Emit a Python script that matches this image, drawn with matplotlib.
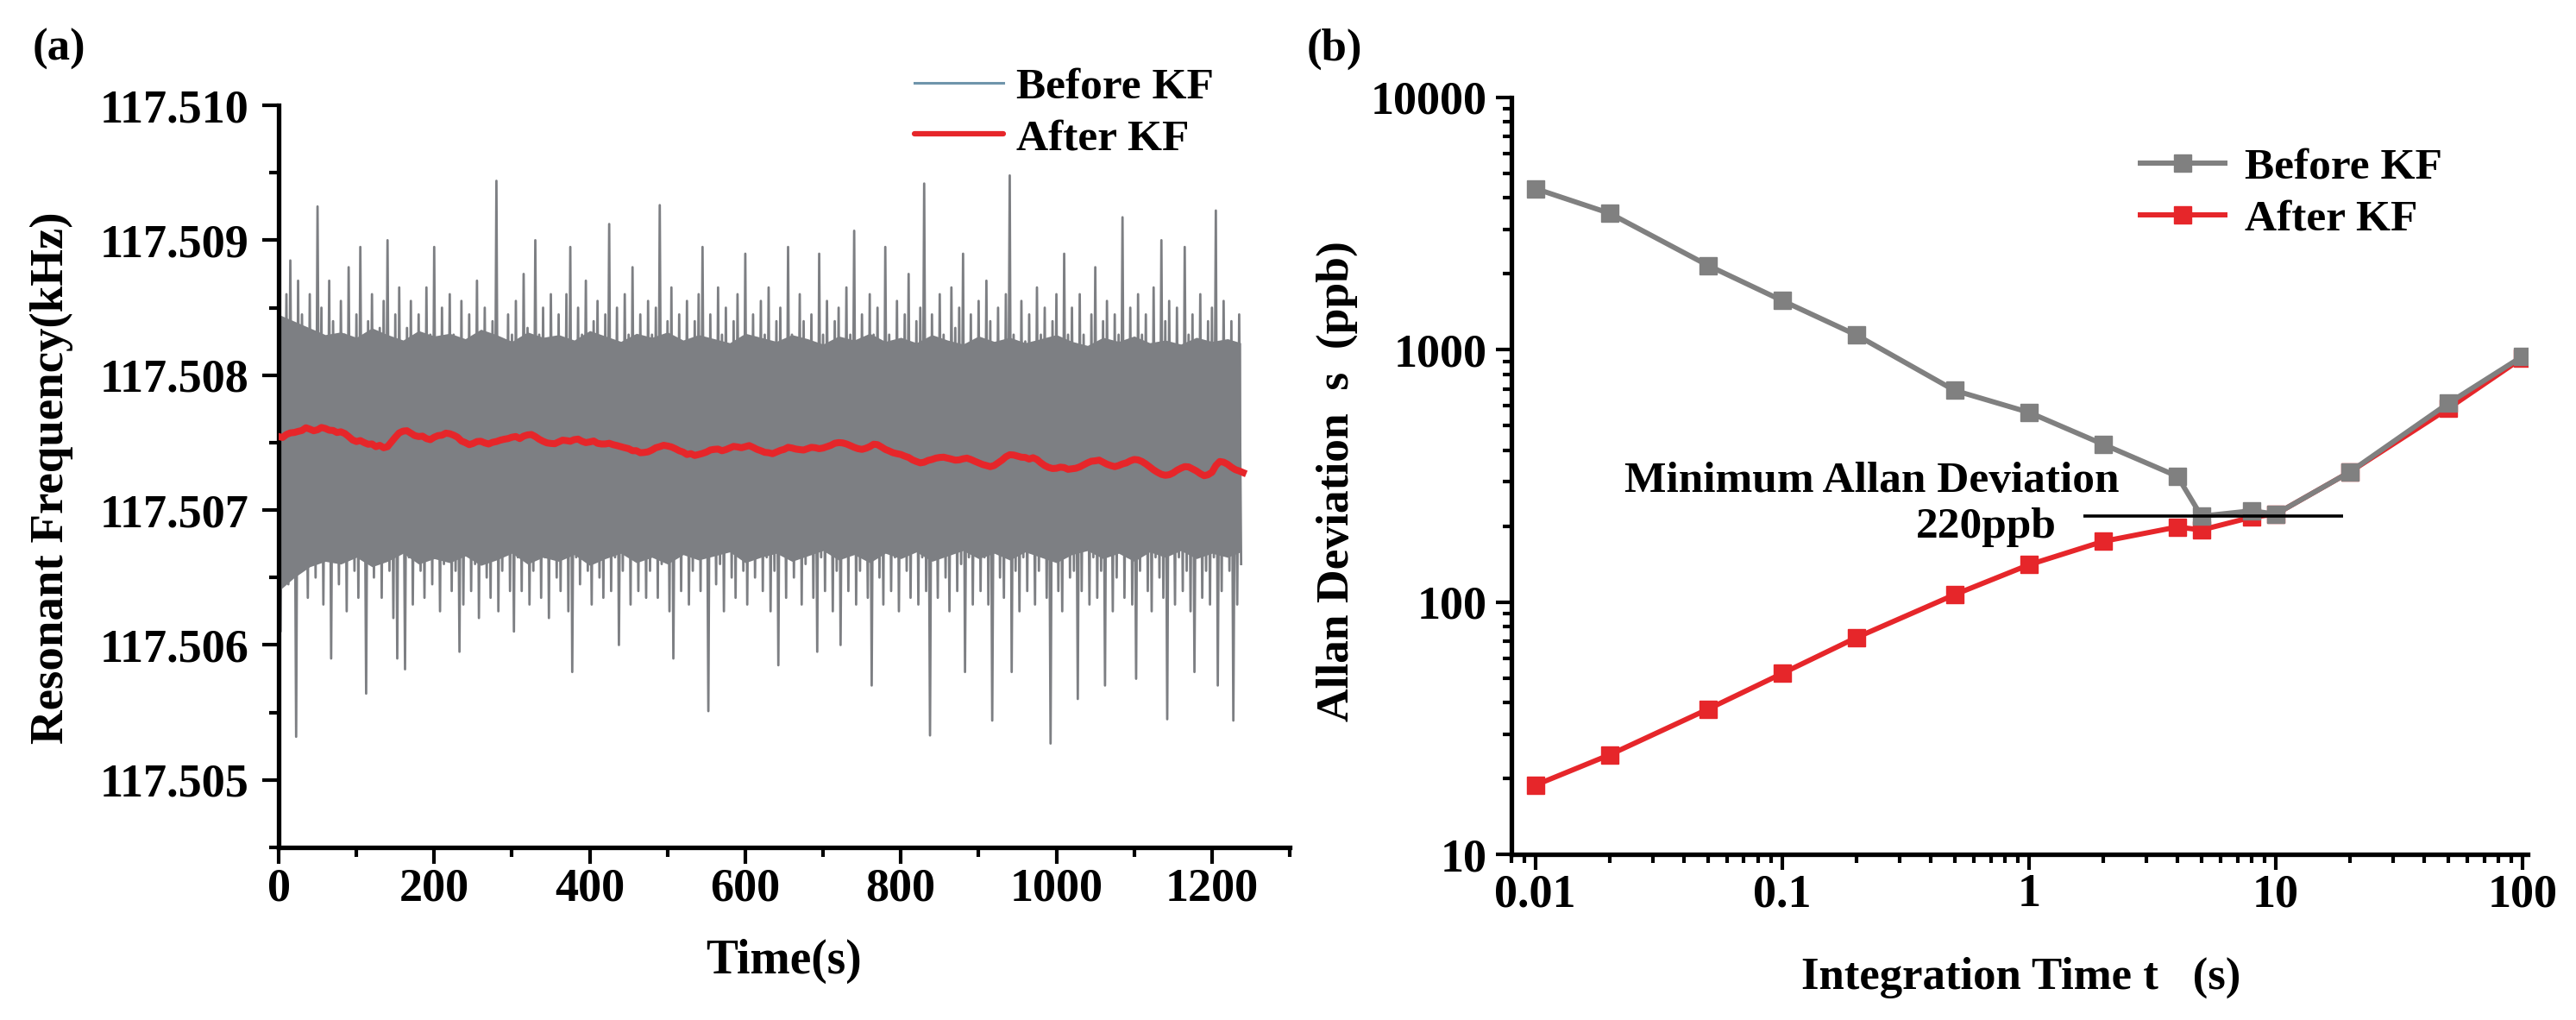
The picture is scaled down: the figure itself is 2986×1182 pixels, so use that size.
import numpy as np
import matplotlib
matplotlib.use('Agg')
import matplotlib.pyplot as plt
from matplotlib.lines import Line2D
from matplotlib.ticker import MultipleLocator, FixedLocator, LogLocator, NullFormatter, FixedFormatter

plt.rcParams['font.family'] = ['Liberation Serif', 'DejaVu Serif']
plt.rcParams['font.weight'] = 'bold'

# ---------------- data: panel (a) ----------------
base_khz = 117.500          # offsets below are in mHz above this
bin_s = 5                   # each hi/lo pair = extremes of the raw trace in a 5 s bin
before_hi_mhz = [
    8900, 8350, 8600, 8850, 8150, 8700, 8450, 8050, 8600, 8250, 9250, 8500,
    8250, 8700, 8400, 7950, 8550, 8300, 8800, 8150, 8450, 8950, 8050, 8400,
    8600, 8100, 8350, 8550, 9000, 8200, 8450, 8650, 8000, 8350, 8550, 8100,
    8450, 8200, 8650, 8300, 8950, 8050, 8500, 8150, 8600, 8300, 7950, 8550,
    8250, 8450, 8050, 8700, 8300, 8500, 8100, 8400, 9440, 8250, 8000, 8450,
    8300, 8550, 8100, 8750, 8350, 8000, 9000, 8300, 8500, 8150, 8600, 8200,
    8450, 8050, 8600, 8950, 8150, 8500, 8300, 8700, 7950, 8400, 8550, 8200,
    8450, 9120, 8150, 8500, 8000, 8600, 8300, 8800, 8200, 8450, 8050, 8550,
    8300, 8500, 9260, 8150, 8400, 8650, 8000, 8450, 8200, 8550, 8100, 8400,
    8600, 8950, 8150, 8450, 8000, 8650, 8300, 8500, 8100, 8400, 8600, 8050,
    8900, 8250, 8450, 8000, 8550, 8300, 8650, 8150, 8400, 8500, 8050, 8950,
    8300, 8100, 8600, 8400, 7950, 8450, 8200, 8900, 8300, 8550, 8050, 8400,
    8500, 8150, 8650, 8300, 9070, 8200, 8450, 8000, 8600, 8300, 8500, 8150,
    8950, 8300, 8050, 8550, 8200, 8450, 8750, 8100, 8400, 8500, 9420, 8250,
    8450, 8000, 8600, 8300, 8150, 8650, 8350, 8500, 8900, 8100, 8450, 8050,
    8550, 8200, 8700, 8400, 8100, 8500, 8000, 8600, 9480, 8300, 8150, 8550,
    8250, 8450, 8000, 8650, 8300, 8500, 8150, 8400, 8600, 8050, 8900, 8300,
    8500, 8150, 8600, 8300, 8000, 8450, 8800, 8200, 8400, 8550, 8100, 8450,
    8300, 9170, 8150, 8500, 8050, 8600, 8300, 8450, 8200, 8650, 8100, 9000,
    8400, 8550, 8050, 8500, 8200, 8950, 8300, 8450, 8100, 8600, 8000, 8400,
    8500, 9220, 8200, 8550, 8100, 8400, 8050, 8450,
]
before_lo_mhz = [
    6100, 6700, 6450, 6850, 5320, 6550, 6900, 6350, 6700, 6500, 6800, 6300,
    6650, 5900, 6750, 6450, 6900, 6250, 6800, 6550, 6350, 6750, 5640, 6600,
    6500, 6850, 6350, 6700, 6550, 6200, 5900, 6800, 5820, 6650, 6300, 6900,
    6550, 6350, 6750, 6450, 6700, 6250, 6600, 6900, 6400, 6550, 5950, 6300,
    6700, 6400, 6600, 6200, 6800, 6500, 6350, 6700, 6250, 6550, 6850, 6400,
    6100, 6650, 6400, 6800, 6300, 6550, 6750, 6350, 6650, 6200, 6900, 6500,
    6400, 6700, 6250, 5800, 6650, 6450, 6850, 6550, 6300, 6700, 6500, 6350,
    6750, 6400, 6650, 6000, 6550, 6800, 6300, 6650, 6400, 6900, 6350, 6550,
    6700, 6350, 6600, 6850, 6250, 5900, 6650, 6400, 6800, 6300, 6550, 6700,
    6400, 6650, 5510, 6800, 6450, 6600, 6250, 6700, 6500, 6350, 6850, 6550,
    6300, 6700, 6500, 6850, 6400, 6650, 6250, 6550, 5850, 6700, 6350, 6650,
    6500, 6800, 6300, 6600, 6750, 6350, 5950, 6650, 6400, 6850, 6250, 6550,
    6000, 6650, 6400, 6800, 6300, 6550, 6750, 6350, 5700, 6650, 6500, 6300,
    6700, 6400, 6650, 6250, 6800, 6550, 6350, 6700, 6300, 6650, 6400, 5330,
    6650, 6350, 6800, 6500, 6250, 6700, 6400, 6600, 5800, 6650, 6300, 6800,
    6400, 6650, 6300, 5440, 6700, 6500, 6350, 6800, 5800, 6550, 6250, 6650,
    6400, 6700, 6300, 6550, 6800, 6350, 5270, 6650, 6400, 6250, 6700, 6500,
    6550, 5600, 6400, 6800, 6300, 6650, 6350, 6550, 5700, 6700, 6250, 6500,
    6700, 6350, 6650, 6300, 5750, 6550, 6800, 6400, 6250, 6650, 6500, 6350,
    5450, 6700, 6300, 6650, 6400, 6550, 6250, 5800, 6700, 6350, 6550, 6300,
    6650, 5700, 6400, 6700, 6550, 5440, 6300, 6600,
]
# edges of the solid (fully inked) part of the raw trace, every 20 s
band_step_s = 20
dense_top_mhz = [
    8450, 8400, 8350, 8300, 8320, 8280, 8350, 8300, 8260, 8330,
    8290, 8310, 8270, 8340, 8300, 8250, 8320, 8280, 8300, 8260,
    8330, 8290, 8250, 8310, 8280, 8320, 8260, 8300, 8270, 8240,
    8310, 8280, 8250, 8300, 8270, 8230, 8290, 8260, 8310, 8250,
    8280, 8240, 8300, 8260, 8230, 8290, 8250, 8280, 8240, 8270,
    8300, 8250, 8220, 8280, 8250, 8290, 8240, 8260, 8230, 8280,
    8250, 8270, 8240,
]
dense_bot_mhz = [
    6400, 6500, 6580, 6620, 6600, 6650, 6580, 6620, 6680, 6600,
    6640, 6610, 6660, 6590, 6630, 6680, 6600, 6650, 6620, 6670,
    6590, 6640, 6680, 6610, 6650, 6600, 6670, 6630, 6660, 6690,
    6610, 6650, 6680, 6620, 6660, 6700, 6630, 6670, 6610, 6680,
    6640, 6690, 6620, 6660, 6700, 6640, 6680, 6630, 6690, 6650,
    6610, 6670, 6700, 6640, 6680, 6620, 6690, 6650, 6700, 6640,
    6680, 6650, 6690,
]
after_step_s = 5
after_mhz = [
    7545, 7538, 7560, 7572, 7575, 7583, 7590, 7610, 7600, 7588, 7595, 7612, 7605, 7592, 7590, 7575, 7580, 7568, 7545, 7520,
    7508, 7515, 7500, 7488, 7490, 7470, 7480, 7462, 7470, 7505, 7540, 7572, 7585, 7588, 7570, 7552, 7545, 7548, 7530, 7522,
    7540, 7552, 7555, 7570, 7566, 7555, 7540, 7512, 7500, 7485, 7494, 7508, 7510, 7498, 7490, 7502, 7508, 7518, 7525, 7530,
    7540, 7545, 7530, 7548, 7557, 7560, 7545, 7525, 7510, 7498, 7494, 7492, 7505, 7518, 7515, 7510, 7522, 7526, 7510, 7500,
    7505, 7512, 7495, 7490, 7490, 7495, 7485, 7478, 7470, 7462, 7455, 7440, 7440, 7425, 7427, 7432, 7445, 7462, 7470, 7480,
    7475, 7468, 7455, 7440, 7430, 7412, 7418, 7405, 7412, 7420, 7430, 7445, 7450, 7452, 7440, 7448, 7460, 7472, 7468, 7462,
    7470, 7478, 7465, 7450, 7440, 7428, 7425, 7418, 7430, 7442, 7450, 7465, 7460, 7452, 7448, 7445, 7455, 7465, 7462, 7455,
    7460, 7470, 7480, 7495, 7500, 7498, 7490, 7478, 7465, 7455, 7450, 7458, 7470, 7488, 7485, 7468, 7450, 7438, 7425, 7418,
    7412, 7400, 7390, 7372, 7360, 7350, 7355, 7368, 7375, 7385, 7390, 7392, 7385, 7378, 7370, 7372, 7380, 7385, 7375, 7362,
    7350, 7338, 7330, 7322, 7330, 7350, 7370, 7395, 7410, 7408, 7400, 7392, 7390, 7378, 7388, 7375, 7350, 7330, 7316, 7308,
    7310, 7318, 7315, 7302, 7306, 7310, 7320, 7335, 7350, 7362, 7365, 7370, 7355, 7340, 7330, 7322, 7330, 7342, 7350, 7365,
    7375, 7372, 7360, 7342, 7320, 7298, 7280, 7265, 7258, 7262, 7275, 7295, 7310, 7322, 7320, 7305, 7290, 7270, 7255, 7262,
    7280, 7330, 7360, 7355, 7340, 7318, 7300, 7290, 7278,
]
left_xticks = [0, 200, 400, 600, 800, 1000, 1200]
left_yticks = [117.505, 117.506, 117.507, 117.508, 117.509, 117.510]

# ---------------- data: panel (b) ----------------
tau_s = [0.01, 0.02, 0.05, 0.1, 0.2, 0.5, 1, 2, 4, 5, 8, 10, 20, 50, 100]
adev_before_ppb = [4355, 3476, 2161, 1567, 1144, 690, 565, 422, 315, 219, 230, 223, 328, 613, 942]
adev_after_ppb = [18.8, 24.8, 37.6, 52.1, 72.3, 107, 140.5, 174, 198.5, 193, 217, 223, 328, 585, 929]
min_adev_ppb = 220
min_line_tau = [1.66, 18.8]
right_xticks = [0.01, 0.1, 1, 10, 100]
right_xticklabels = ['0.01', '0.1', '1', '10', '100']
right_yticks = [10, 100, 1000, 10000]
right_yticklabels = ['10', '100', '1000', '10000']

# ---------------- figure ----------------
W, H = 2986, 1182
fig = plt.figure(figsize=(W / 100, H / 100), dpi=100)

def fx(px):
    return px / W

def fy(py):
    return 1 - py / H

GRAY_TRACE = '#7d7f83'
GRAY_LEG = '#6f95ab'
RED = '#e6262a'
GRAY = '#808080'

ax1 = fig.add_axes([fx(323), fy(982), (1495 - 323) / W, (982 - 122) / H])
ax2 = fig.add_axes([fx(1752), fy(990), (2930 - 1752) / W, (990 - 113) / H])

# panel (a)
n = len(before_hi_mhz)
t_pairs = np.empty(2 * n)
v_pairs = np.empty(2 * n)
t_pairs[0::2] = np.arange(n) * bin_s
t_pairs[1::2] = np.arange(n) * bin_s + bin_s / 2
v_pairs[0::2] = before_hi_mhz
v_pairs[1::2] = before_lo_mhz
before_khz = base_khz + v_pairs / 1e6
t_band = np.arange(len(dense_top_mhz)) * band_step_s
t_band[-1] = t_pairs[-1]
band_top = base_khz + np.array(dense_top_mhz) / 1e6
band_bot = base_khz + np.array(dense_bot_mhz) / 1e6
t_after = np.arange(len(after_mhz)) * after_step_s
after_khz = base_khz + np.array(after_mhz) / 1e6

ax1.fill_between(t_band, band_bot, band_top, color=GRAY_TRACE, lw=0, zorder=1)
ax1.plot(t_pairs, before_khz, color=GRAY_TRACE, lw=2.0, zorder=2)
ax1.plot(t_after, after_khz, color=RED, lw=5.8, zorder=3, solid_joinstyle='round')
ax1.set_xlim(0, 1300)
ax1.set_ylim(117.5045, 117.5100)
ax1.xaxis.set_major_locator(FixedLocator(left_xticks))
ax1.xaxis.set_minor_locator(MultipleLocator(100))
ax1.yaxis.set_major_locator(FixedLocator(left_yticks))
ax1.yaxis.set_major_formatter(FixedFormatter(['%.3f' % v for v in left_yticks]))
ax1.yaxis.set_minor_locator(MultipleLocator(0.0005))

h1 = [Line2D([], [], color=GRAY_LEG, lw=2.2), Line2D([], [], color=RED, lw=4.5, solid_capstyle='round')]
leg1 = ax1.legend(h1, ['Before KF', 'After KF'], loc='center left', bbox_to_anchor=(0.629, 0.9895),
                  frameon=False, handlelength=2.0, handletextpad=0.3, labelspacing=0.25,
                  borderpad=0, borderaxespad=0,
                  prop={'family': ['Liberation Serif'], 'weight': 'bold', 'size': 37})

# panel (b)
ax2.set_xscale('log')
ax2.set_yscale('log')
ln_after, = ax2.plot(tau_s, adev_after_ppb, color=RED, lw=4.3, marker='s', ms=14, zorder=3)
ln_before, = ax2.plot(tau_s, adev_before_ppb, color=GRAY, lw=4.3, marker='s', ms=14, zorder=4)
ax2.hlines(min_adev_ppb, min_line_tau[0], min_line_tau[1], color='black', lw=2.6, zorder=5)
ax2.set_xlim(0.008, 105)
ax2.set_ylim(10, 10000)
ax2.xaxis.set_major_locator(FixedLocator(right_xticks))
ax2.xaxis.set_major_formatter(FixedFormatter(right_xticklabels))
ax2.xaxis.set_minor_locator(LogLocator(base=10, subs=range(2, 10), numticks=20))
ax2.xaxis.set_minor_formatter(NullFormatter())
ax2.yaxis.set_major_locator(FixedLocator(right_yticks))
ax2.yaxis.set_major_formatter(FixedFormatter(right_yticklabels))
ax2.yaxis.set_minor_locator(LogLocator(base=10, subs=range(2, 10), numticks=20))
ax2.yaxis.set_minor_formatter(NullFormatter())

leg2 = ax2.legend([ln_before, ln_after], ['Before KF', 'After KF'], loc='center left',
                  bbox_to_anchor=(0.619, 0.873), frameon=False, handlelength=1.9,
                  handletextpad=0.45, labelspacing=0.25, borderpad=0, borderaxespad=0,
                  prop={'family': ['Liberation Serif'], 'weight': 'bold', 'size': 37})

ax2.text(0.598, 0.4926, 'Minimum Allan Deviation', transform=ax2.transAxes, ha='right', va='center',
         fontsize=37, fontweight='bold')
ax2.text(0.5365, 0.432, '220ppb', transform=ax2.transAxes, ha='right', va='center',
         fontsize=37, fontweight='bold')

for ax, ypad, Lmaj, Lmin in ((ax1, 11, 14, 8), (ax2, 7.5, 13, 7)):
    for s in ('top', 'right'):
        ax.spines[s].set_visible(False)
    for s in ('left', 'bottom'):
        ax.spines[s].set_linewidth(3.8)
    ax.tick_params(which='major', direction='out', length=Lmaj, width=3, labelsize=39)
    ax.tick_params(which='minor', direction='out', length=Lmin, width=3)
    ax.tick_params(axis='y', which='major', pad=ypad)
    ax.tick_params(axis='x', which='major', pad=3)
    for lab in ax.get_xticklabels() + ax.get_yticklabels():
        lab.set_fontweight('bold')

# axis labels & panel tags
fig.text(fx(60), fy(554), 'Resonant Frequency(kHz)', rotation=90, ha='center', va='center',
         fontsize=39.5, fontweight='bold')
fig.text(fx(909), fy(1114), 'Time(s)', ha='center', va='center', fontsize=40, fontweight='bold')
fig.text(fx(1550), fy(558), 'Allan Deviation  s  (ppb)', rotation=90, ha='center', va='center',
         fontsize=38.5, fontweight='bold')
fig.text(fx(2343), fy(1133), 'Integration Time t   (s)', ha='center', va='center',
         fontsize=38, fontweight='bold')
fig.text(fx(68), fy(57), '(a)', ha='center', va='center', fontsize=38, fontweight='bold')
fig.text(fx(1547), fy(57), '(b)', ha='center', va='center', fontsize=38, fontweight='bold')

fig.savefig('out.png', dpi=100)
